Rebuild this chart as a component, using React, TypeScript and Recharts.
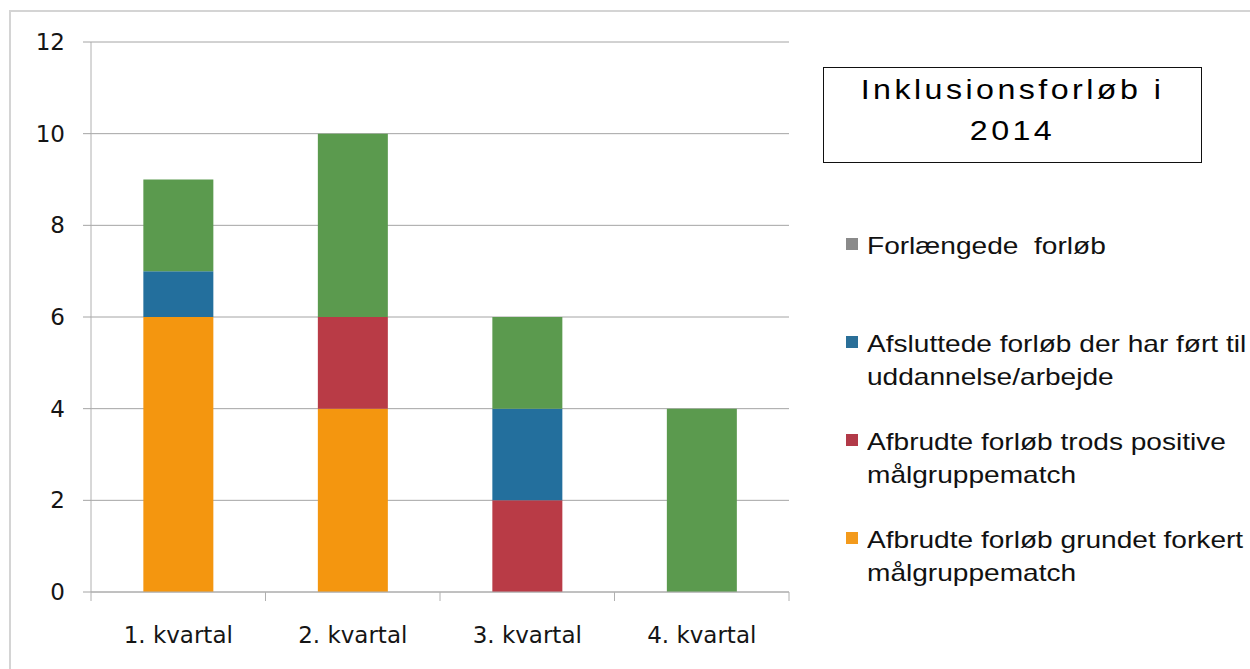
import React from 'react';
import { BarChart, Bar, XAxis, YAxis, CartesianGrid } from 'recharts';

const quarters = ['1. kvartal', '2. kvartal', '3. kvartal', '4. kvartal'];
const forkertMatch = [6, 4, 0, 0];
const trodsPositive = [0, 2, 2, 0];
const afsluttede = [1, 0, 2, 0];
const forlaengede = [2, 4, 2, 4];
const yTicks = [0, 2, 4, 6, 8, 10, 12];

const titleLines = ['Inklusionsforløb i', '2014'];

// legend order as in the picture (top to bottom)
const legendLabels = [
  'Forlængede  forløb',
  'Afsluttede forløb der har ført til\nuddannelse/arbejde',
  'Afbrudte forløb trods positive\nmålgruppematch',
  'Afbrudte forløb grundet forkert\nmålgruppematch',
];
const legendColors = ['#8a8a8a', '#2a6f98', '#b23a48', '#f39a1c'];

const ORANGE = '#f4960f';
const RED = '#b93b46';
const BLUE = '#236f9d';
const GREEN = '#5b9a4e';
const AXIS = '#b0b0b0';
const GRID = '#a4a4a4';
const AXIS_FONT = 'DejaVu Sans, Verdana, sans-serif';

const data = quarters.map((q, i) => ({
  quarter: q,
  forkert: forkertMatch[i],
  trods: trodsPositive[i],
  afsluttet: afsluttede[i],
  forlaenget: forlaengede[i],
}));

function QuarterTick(props: any) {
  const { x, y, payload, index, visibleTicksCount, width } = props;
  const half = payload.offset ?? width / visibleTicksCount / 2;
  return (
    <g>
      <line x1={x - half} x2={x - half} y1={y} y2={y + 9} stroke={AXIS} />
      {index === visibleTicksCount - 1 && (
        <line x1={x + half} x2={x + half} y1={y} y2={y + 9} stroke={AXIS} />
      )}
      <text x={x} y={y + 51} textAnchor="middle" fill="#151515" fontSize={23} fontFamily={AXIS_FONT}>
        {payload.value}
      </text>
    </g>
  );
}

export default function App() {
  return (
    <div style={{ position: 'absolute', left: 0, top: 0, width: 1250, height: 669, background: '#fff', overflow: 'hidden' }}>
      <div style={{ position: 'absolute', left: 9, top: 10, width: 1300, height: 720, border: '2px solid #d4d4d4' }} />
      <BarChart
        width={1250}
        height={669}
        data={data}
        margin={{ top: 42, right: 461, bottom: 0, left: 0 }}
        barCategoryGap="30%"
        style={{ position: 'absolute', left: 0, top: 0 }}
      >
        <CartesianGrid vertical={false} stroke={GRID} />
        <XAxis
          dataKey="quarter"
          height={77}
          tickLine={false}
          tickSize={0}
          tickMargin={0}
          axisLine={{ stroke: AXIS }}
          tick={<QuarterTick />}
          interval={0}
        />
        <YAxis
          width={91}
          domain={[0, 12]}
          ticks={yTicks}
          tickSize={8}
          tickMargin={18}
          axisLine={{ stroke: AXIS }}
          tickLine={{ stroke: GRID }}
          tick={{ fill: '#151515', fontSize: 23, fontFamily: AXIS_FONT }}
        />
        <Bar dataKey="forkert" stackId="a" fill={ORANGE} isAnimationActive={false} />
        <Bar dataKey="trods" stackId="a" fill={RED} isAnimationActive={false} />
        <Bar dataKey="afsluttet" stackId="a" fill={BLUE} isAnimationActive={false} />
        <Bar dataKey="forlaenget" stackId="a" fill={GREEN} isAnimationActive={false} />
      </BarChart>

      <div
        style={{
          position: 'absolute',
          left: 823,
          top: 67,
          width: 377,
          height: 93,
          border: '1.5px solid #111',
          fontFamily: 'Liberation Sans, Arial, sans-serif',
          fontSize: 28,
          lineHeight: '41px',
          textAlign: 'center',
          color: '#000',
          paddingTop: 1,
          boxSizing: 'content-box',
        }}
      >
        {titleLines.map((t) => (
          <div key={t} style={{ transform: 'scaleX(1.15)', letterSpacing: 3, whiteSpace: 'nowrap', height: 41 }}>
            {t}
          </div>
        ))}
      </div>

      <div style={{ position: 'absolute', left: 846, top: 229, fontFamily: 'Liberation Sans, Arial, sans-serif' }}>
        {legendLabels.map((label, i) => (
          <div key={label} style={{ position: 'relative', height: 98 }}>
            <div style={{ position: 'absolute', left: 0, top: 9, width: 12, height: 12, background: legendColors[i] }} />
            <div
              style={{
                position: 'absolute',
                left: 21,
                top: 0,
                fontSize: 24,
                lineHeight: '33px',
                color: '#111',
                whiteSpace: 'pre',
                transform: 'scaleX(1.17)',
                transformOrigin: 'left top',
              }}
            >
              {label}
            </div>
          </div>
        ))}
      </div>
    </div>
  );
}
